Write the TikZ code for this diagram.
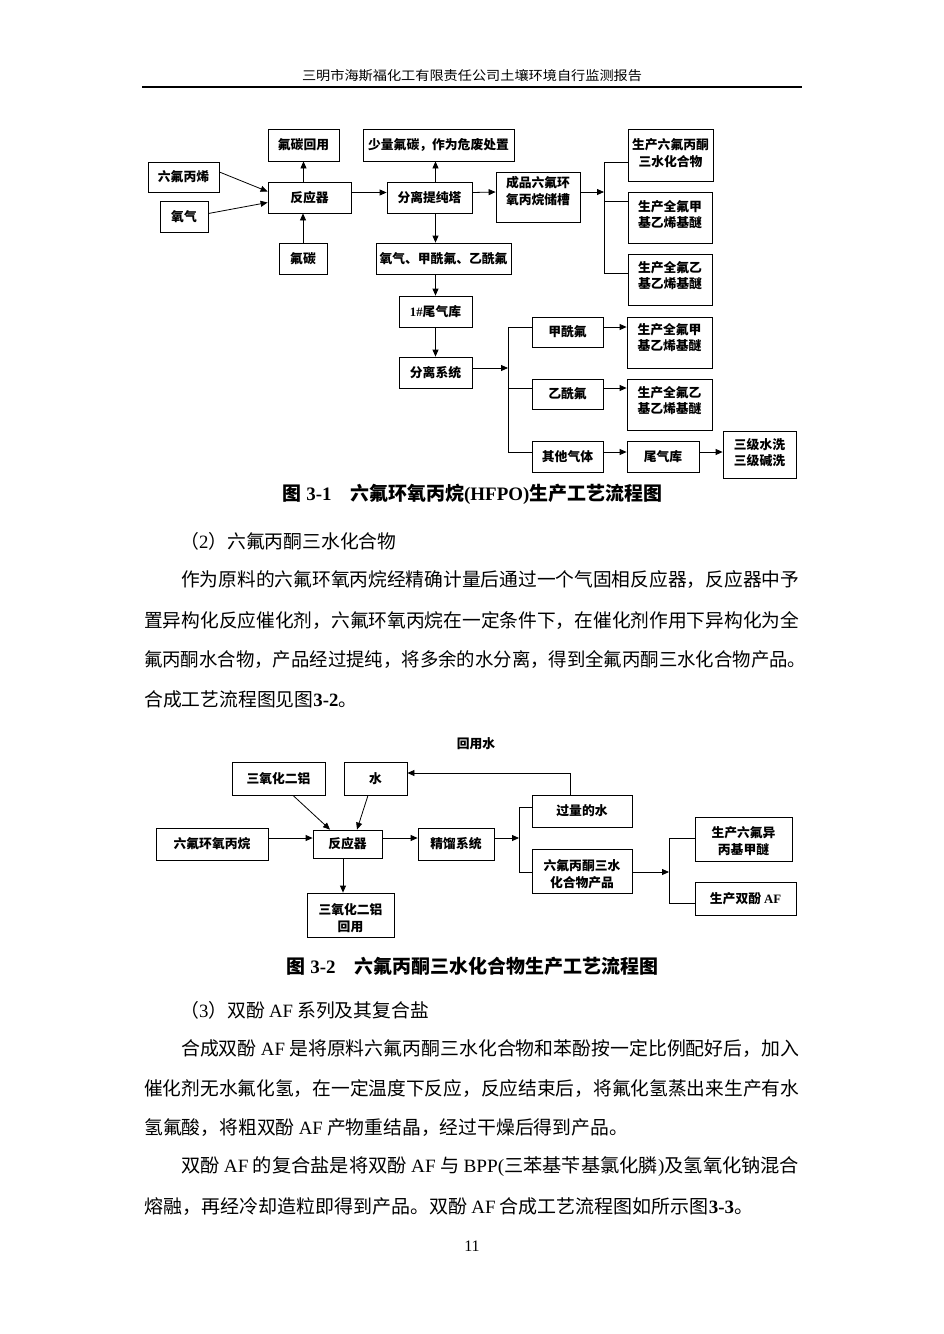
\documentclass[tikz,border=0pt]{standalone}
\usepackage{fontspec}
\usepackage{graphicx}
\setmainfont{Liberation Serif}
\newfontfamily\cjk{Noto Sans CJK SC}
\usetikzlibrary{arrows.meta,fit,calc}
\newcommand\myboxfont{\fontsize{12.8pt}{16.5pt}\selectfont\cjk\bfseries}
\newcommand\mybodyfont{\fontsize{18.8pt}{22pt}\selectfont\cjk}
\newcommand\mycapfont{\fontsize{19pt}{22pt}\selectfont\cjk\bfseries}
\newcommand\lat{\rmfamily}
% box with its label: name, x1, y1, x2, y2, label y-offset, text
\newcommand\bx[7]{%
  \node[box, fit={(#2,#3)(#4,#5)}] (#1) {};
  \node[lbl] (#1t) at ($(#1.center)+(0,#6)$) {#7};}
\tikzset{
  box/.style={draw, line width=0.8pt, inner sep=0pt},
  lbl/.style={inner sep=0pt, font=\myboxfont, align=center},
  arr/.style={line width=0.8pt, -{Triangle[length=7pt,width=6pt]}},
  ln/.style={line width=0.8pt},
  body/.style={anchor=west, inner sep=0pt, font=\mybodyfont},
}
\begin{document}
\begin{tikzpicture}[x=1pt,y=-1pt]
\fill[white] (0,0) rectangle (943,1334);
\useasboundingbox (0,0) rectangle (943,1334);

% header
\node[inner sep=0pt, font=\fontsize{13pt}{15pt}\selectfont\cjk] (hdr) at (472,76)
  {\resizebox{340pt}{\height}{三明市海斯福化工有限责任公司土壤环境自行监测报告}};
\coordinate (hl) at (142,87); \coordinate (hr) at (802,87);
\draw[line width=1.6pt] (hl) -- (hr);

% ---------- diagram 3-1 ----------
\bx{hh}{268}{129}{339}{161}{0}{氟碳回用}
\bx{waste}{363}{129}{514}{161}{0}{少量氟碳，作为危废处置}
\bx{p1}{628}{129}{713}{181}{-2}{生产六氟丙酮\\三水化合物}
\bx{hfp}{148}{162}{219}{192}{0}{六氟丙烯}
\bx{o2}{160}{201}{208}{232}{0}{氧气}
\bx{rx}{268}{182}{351}{213}{0}{反应器}
\bx{sep}{387}{182}{472}{213}{0}{分离提纯塔}
\bx{tank}{496}{172}{580}{222}{-6}{成品六氟环\\氧丙烷储槽}
\bx{p2}{628}{192}{712}{243}{-3}{生产全氟甲\\基乙烯基醚}
\bx{fc}{279}{243}{327}{274}{0}{氟碳}
\bx{gas}{376}{243}{511}{274}{0}{氧气、甲酰氟、乙酰氟}
\bx{p3}{628}{254}{712}{305}{-4}{生产全氟乙\\基乙烯基醚}
\bx{t1}{399}{296}{472}{327}{0}{{\lat 1\#}尾气库}
\bx{sys}{399}{357}{472}{388}{0}{分离系统}
\bx{fa}{532}{317}{603}{347}{0}{甲酰氟}
\bx{p4}{627}{317}{712}{368}{-5}{生产全氟甲\\基乙烯基醚}
\bx{aa}{532}{379}{603}{409}{0}{乙酰氟}
\bx{p5}{627}{379}{712}{430}{-4}{生产全氟乙\\基乙烯基醚}
\bx{og}{532}{441}{603}{472}{0}{其他气体}
\bx{tk}{627}{441}{699}{472}{0}{尾气库}
\bx{wash}{723}{431}{796}{478}{-2}{三级水洗\\三级碱洗}

\draw[arr] ($(hfp.east)+(0,-5)$) -- ($(rx.west)+(0,-6)$);
\draw[arr] ($(o2.east)+(0,-3)$) -- ($(rx.west)+(0,5)$);
\draw[arr] (rx.north -| hh.south) -- (hh.south);
\draw[arr] (fc.north) -- (fc.north |- rx.south);
\draw[arr] ($(rx.east)+(0,-5)$) -- ($(sep.west)+(0,-5)$);
\draw[arr] (sep.north -| t1.north) -- (waste.south -| t1.north);
\draw[arr] (sep.south -| t1.north) -- (gas.north -| t1.north);
\draw[arr] (gas.south -| t1.north) -- (t1.north);
\draw[arr] (t1.south) -- (sys.north);
\draw[arr] ($(sep.east)+(0,-5)$) -- ($(tank.west)+(0,-5)$);

\coordinate (b1) at (604,192);
\coordinate (b1t) at (604,162);
\coordinate (b1m) at (604,201);
\coordinate (b1b) at (604,273);
\draw[arr] (tank.east |- b1) -- (b1);
\draw[ln] (b1t -| p1.west) -- (b1t) -- (b1b) -- (b1b -| p3.west);
\draw[ln] (b1m) -- (b1m -| p2.west);

\coordinate (b2) at (508,368);
\coordinate (b2t) at (508,327);
\coordinate (b2m) at (508,388);
\coordinate (b2b) at (508,452);
\draw[arr] (sys.east |- b2) -- (b2);
\draw[ln] (b2t -| fa.west) -- (b2t) -- (b2b) -- (b2b -| og.west);
\draw[ln] (b2m) -- (b2m -| aa.west);
\draw[arr] (fa.east |- b2t) -- (p4.west |- b2t);
\draw[arr] (aa.east |- b2m) -- (p5.west |- b2m);
\draw[arr] (og.east |- b2b) -- (tk.west |- b2b);
\draw[arr] (tk.east |- b2b) -- (wash.west |- b2b);

\node[inner sep=0pt, font=\mycapfont] (cap1) at (472.5,494)
  {\resizebox{379pt}{\height}{图 {\lat 3-1}\quad 六氟环氧丙烷{\lat (HFPO)}生产工艺流程图}};

% ---------- body text ----------
\node[body] (l1) at (180,541) {（{\lat 2}）六氟丙酮三水化合物};
\node[body] (l2) at (181,580) {\resizebox{618pt}{\height}{作为原料的六氟环氧丙烷经精确计量后通过一个气固相反应器，反应器中予}};
\node[body] (l3) at (144,620) {\resizebox{655pt}{\height}{置异构化反应催化剂，六氟环氧丙烷在一定条件下，在催化剂作用下异构化为全}};
\node[body] (l4) at (144,659) {\resizebox{662pt}{\height}{氟丙酮水合物，产品经过提纯，将多余的水分离，得到全氟丙酮三水化合物产品。}};
\node[body] (l5) at (144,699) {合成工艺流程图见图{\lat\bfseries 3-2}。};

% ---------- diagram 3-2 ----------
\node[lbl] (rw) at (476,744) {回用水};
\bx{al}{232}{762}{325}{795}{0}{三氧化二铝}
\bx{water}{344}{762}{407}{795}{0}{水}
\bx{hfpo}{156}{828}{268}{860}{0}{六氟环氧丙烷}
\bx{rx2}{313}{830}{382}{858}{0}{反应器}
\bx{dist}{418}{828}{494}{860}{0}{精馏系统}
\bx{alr}{307}{893}{394}{937}{3}{三氧化二铝\\回用}
\bx{ex}{532}{795}{632}{827}{0}{过量的水}
\bx{prod}{532}{849}{632}{893}{3}{六氟丙酮三水\\化合物产品}
\bx{pe}{695}{817}{792}{861}{2}{生产六氟异\\丙基甲醚}
\bx{paf}{695}{882}{796}{915}{0}{生产双酚 {\lat AF}}

\draw[arr] ($(al.south)+(14.5,0)$) -- ($(rx2.north)+(-17.5,0)$);
\draw[arr] ($(water.south)+(-7.5,0)$) -- ($(rx2.north)+(9.5,0)$);
\coordinate (r2) at (0,838);
\draw[arr] (hfpo.east |- r2) -- (rx2.west |- r2);
\draw[arr] (rx2.east |- r2) -- (dist.west |- r2);
\coordinate (xa) at (343,0);
\draw[arr] (rx2.south -| xa) -- (alr.north -| xa);

\coordinate (b3) at (519,838);
\coordinate (b3t) at (519,807);
\coordinate (b3b) at (519,872);
\draw[arr] (dist.east |- b3) -- (b3);
\draw[ln] (b3t -| ex.west) -- (b3t) -- (b3b) -- (b3b -| prod.west);
\coordinate (rt) at (570,773);
\draw[arr] (ex.north -| rt) -- (rt) -- (water.east |- rt);

\coordinate (b4) at (669,872);
\coordinate (b4t) at (669,838);
\coordinate (b4b) at (669,903);
\draw[arr] (prod.east |- b4) -- (b4);
\draw[ln] (b4t -| pe.west) -- (b4t) -- (b4b) -- (b4b -| paf.west);

\node[inner sep=0pt, font=\mycapfont] (cap2) at (472.5,966)
  {\resizebox{371pt}{\height}{图 {\lat 3-2}\quad 六氟丙酮三水化合物生产工艺流程图}};

% ---------- body text 2 ----------
\node[body] (l6) at (180,1010) {（{\lat 3}）双酚 {\lat AF} 系列及其复合盐};
\node[body] (l7) at (181,1049) {\resizebox{618pt}{\height}{合成双酚 {\lat AF} 是将原料六氟丙酮三水化合物和苯酚按一定比例配好后，加入}};
\node[body] (l8) at (144,1089) {\resizebox{655pt}{\height}{催化剂无水氟化氢，在一定温度下反应，反应结束后，将氟化氢蒸出来生产有水}};
\node[body] (l9) at (144,1128) {氢氟酸，将粗双酚 {\lat AF} 产物重结晶，经过干燥后得到产品。};
\node[body] (l10) at (181,1167) {\resizebox{618pt}{\height}{双酚 {\lat AF} 的复合盐是将双酚 {\lat AF} 与 {\lat BPP(}三苯基苄基氯化膦{\lat )}及氢氧化钠混合}};
\node[body] (l11) at (144,1207) {\resizebox{609pt}{\height}{熔融，再经冷却造粒即得到产品。双酚 {\lat AF} 合成工艺流程图如所示图{\lat\bfseries 3-3}。}};

\node[inner sep=0pt, font=\fontsize{16pt}{18pt}\selectfont] (pg) at (472,1246) {11};
\end{tikzpicture}
\end{document}
